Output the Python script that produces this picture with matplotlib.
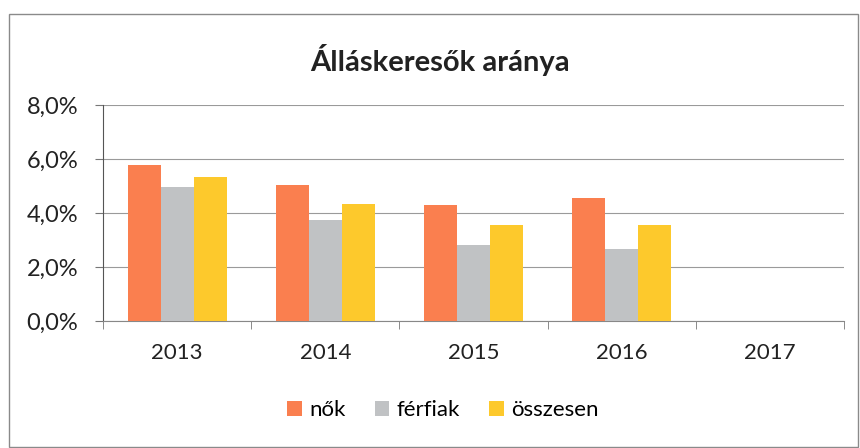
import matplotlib.pyplot as plt
from matplotlib.patches import Rectangle
import numpy as np

plt.rcParams['font.family'] = ['Lato', 'DejaVu Sans']

years = ['2013', '2014', '2015', '2016', '2017']
nok = [5.78, 5.03, 4.30, 4.55, np.nan]
ferfiak = [4.98, 3.73, 2.82, 2.65, np.nan]
osszesen = [5.35, 4.35, 3.57, 3.57, np.nan]
series_names = ['nők', 'férfiak', 'összesen']
colors = ['#FA7F4F', '#C0C2C4', '#FDC92C']
yticks = [0, 2, 4, 6, 8]
ylabels = ['0,0%', '2,0%', '4,0%', '6,0%', '8,0%']

fig = plt.figure(figsize=(8.6, 4.48), dpi=100)
ax = fig.add_axes([103/860, 127/448, 741/860, 216/448])

x = np.arange(len(years))
w = 0.223
for i, (vals, name, c) in enumerate(zip([nok, ferfiak, osszesen], series_names, colors)):
    ax.bar(x + (i - 1) * w, vals, w, color=c, label=name, zorder=3)

ax.set_xlim(-0.5, len(years) - 0.5)
ax.set_ylim(0, 8)
ax.set_yticks(yticks)
ax.set_yticklabels(ylabels, fontsize=17, color='#222222')
ax.set_xticks(x)
ax.set_xticklabels(years, fontsize=16, color='#222222')
ax.set_xticks(np.arange(-0.5, len(years)), minor=True)
ax.tick_params(axis='x', which='major', length=0, pad=16)
ax.tick_params(axis='x', which='minor', length=6, direction='out', color='#777777')
ax.tick_params(axis='y', length=6, direction='out', color='#777777', pad=12)
ax.grid(axis='y', color='#9a9a9a', linewidth=0.8, zorder=0)
for s in ['top', 'right']:
    ax.spines[s].set_visible(False)
ax.spines['left'].set_color('#555555')
ax.spines['bottom'].set_color('#888888')

fig.text(440/860, 1 - 60/448, 'Álláskeresők aránya', ha='center', va='center',
         fontsize=21, fontweight='bold', color='#222222')

leg = fig.legend(loc='center', bbox_to_anchor=(443/860, 1 - 410/448), ncol=3,
                 frameon=False, fontsize=16, handlelength=0.65, handleheight=0.65,
                 handletextpad=0.35, columnspacing=1.3)

fig.patches.append(Rectangle((9/860, 0.002), 849/860, 1 - 14/448 - 0.002,
                             transform=fig.transFigure, fill=False,
                             edgecolor='#8a8a8a', linewidth=1))

fig.savefig('out.png', dpi=100)
plt.close()
